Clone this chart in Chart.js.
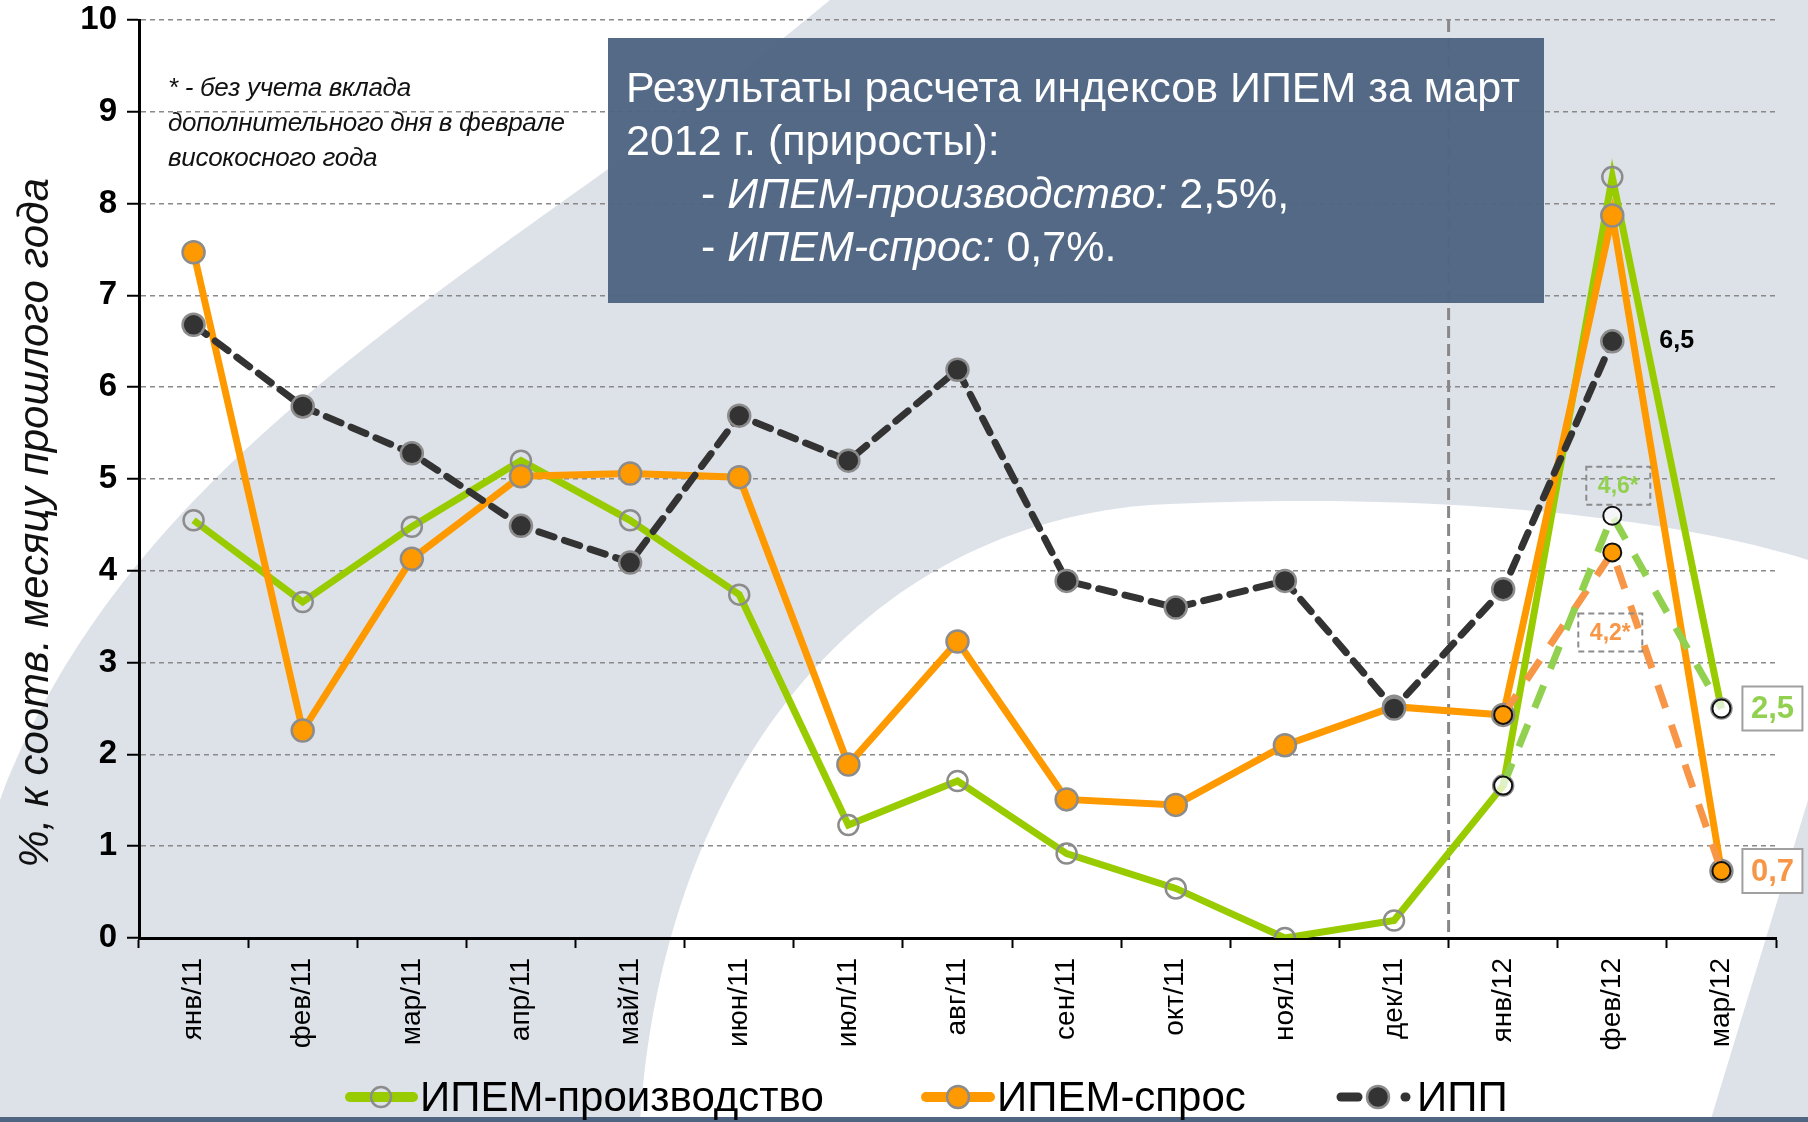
<!DOCTYPE html>
<html>
<head>
<meta charset="utf-8">
<script src="https://cdn.jsdelivr.net/npm/chart.js@4/dist/chart.umd.min.js"></script>
<style>
  html, body { margin: 0; padding: 0; }
  body { width: 1808px; height: 1122px; position: relative; overflow: hidden; font-family: "Liberation Sans", Arial, sans-serif; }
  #chart { position: absolute; left: 0; top: 0; }
  #note {
    position: absolute; left: 168px; top: 70px;
    font-family: "Liberation Sans", Arial, sans-serif;
    font-style: italic; font-size: 26px; line-height: 35px; color: #111; letter-spacing: -0.3px;
  }
  #box {
    position: absolute; left: 608px; top: 38px; width: 936px; height: 265px;
    box-sizing: border-box; padding: 23px 0 0 18px;
    background: rgba(79, 101, 130, 0.97); color: #fff;
    font-size: 43px; line-height: 53px; white-space: nowrap;
  }
  #box .ind { padding-left: 75px; }
</style>
</head>
<body>
<canvas id="chart" width="1808" height="1122"></canvas>
<div id="note">* - без учета вклада<br>дополнительного дня в феврале<br>високосного года</div>
<div id="box">
  Результаты расчета индексов ИПЕМ за март<br>
  2012 г. (приросты):<br>
  <div class="ind">- <i>ИПЕМ-производство:</i> 2,5%,</div>
  <div class="ind">- <i>ИПЕМ-спрос:</i> 0,7%.</div>
</div>
<script>
// categories and series
const months = ["янв/11", "фев/11", "мар/11", "апр/11", "май/11", "июн/11", "июл/11", "авг/11",
  "сен/11", "окт/11", "ноя/11", "дек/11", "янв/12", "фев/12", "мар/12"];
const ipemProd = [4.55, 3.66, 4.48, 5.2, 4.55, 3.74, 1.23, 1.71, 0.92, 0.54, 0.0, 0.19, 1.66, 8.29, 2.5];
const ipemDemand = [7.47, 2.26, 4.13, 5.03, 5.06, 5.02, 1.89, 3.23, 1.51, 1.45, 2.1, 2.52, 2.43, 7.87, 0.73];
const ipp = [6.68, 5.79, 5.28, 4.49, 4.09, 5.69, 5.2, 6.19, 3.89, 3.6, 3.89, 2.5, 3.8, 6.5, null];
// без учета дополнительного дня
const prodAdj = [null, null, null, null, null, null, null, null, null, null, null, null, 1.66, 4.6, 2.5];
const demandAdj = [null, null, null, null, null, null, null, null, null, null, null, null, 2.43, 4.2, 0.73];
const yMin = 0, yMax = 10, yStep = 1;
const yTitle = "%, к соотв. месяцу прошлого года";

const GREEN = "#99cc00", ORANGE = "#ff9900", DARK = "#333333";
const GREEN_LT = "#92d050", ORANGE_LT = "#f79646";
const FONT = "'Liberation Sans', Arial, sans-serif";
Chart.defaults.font.family = FONT;

const fmt = v => v.toFixed(1).replace(".", ",");

// background swooshes + decorations
const decor = {
  id: "decor",
  beforeDraw(chart) {
    const c = chart.ctx;
    c.save();
    c.fillStyle = "#dde1e8";
    c.fillRect(0, 0, chart.width, chart.height);
    c.fillStyle = "#ffffff";
    c.beginPath();
    c.moveTo(0, 0);
    c.lineTo(830, 0);
    c.bezierCurveTo(520, 260, 140, 430, 0, 800);
    c.closePath();
    c.fill();
    c.beginPath();
    c.moveTo(640, 1122);
    c.bezierCurveTo(660, 800, 840, 530, 1150, 505);
    c.bezierCurveTo(1450, 490, 1680, 520, 1808, 560);
    c.lineTo(1808, 800);
    c.lineTo(1710, 1122);
    c.closePath();
    c.fill();
    c.fillStyle = "#4f6582";
    c.fillRect(0, 1117, chart.width, 5);
    c.restore();
  },
  beforeDatasetsDraw(chart) {
    const c = chart.ctx, x = chart.scales.x, a = chart.chartArea;
    const bx = (x.getPixelForValue(11) + x.getPixelForValue(12)) / 2;
    c.save();
    c.strokeStyle = "#888888";
    c.lineWidth = 3;
    c.setLineDash([12, 6]);
    c.beginPath();
    c.moveTo(bx, a.top);
    c.lineTo(bx, a.bottom);
    c.stroke();
    c.restore();
  },
  afterDraw(chart) {
    const c = chart.ctx, x = chart.scales.x, y = chart.scales.y;
    c.save();
    // y axis title
    c.translate(36, 523);
    c.rotate(-Math.PI / 2);
    c.font = "italic 42px " + FONT;
    c.fillStyle = "#111";
    c.textAlign = "center";
    c.textBaseline = "middle";
    c.fillText(yTitle, 0, 0);
    c.restore();

    c.save();
    c.textBaseline = "middle";
    // ИПП last value
    c.font = "bold 25px " + FONT;
    c.fillStyle = "#000";
    c.textAlign = "left";
    c.fillText(fmt(ipp[13]), x.getPixelForValue(13) + 47, y.getPixelForValue(ipp[13]));

    // boxed end values
    const endBox = (val, color) => {
      const cx = x.getPixelForValue(14) + 51, cy = y.getPixelForValue(val);
      c.fillStyle = "#ffffff";
      c.fillRect(cx - 30, cy - 22, 60, 44);
      c.strokeStyle = "#a0a0a0";
      c.lineWidth = 2;
      c.setLineDash([]);
      c.strokeRect(cx - 30, cy - 22, 60, 44);
      c.fillStyle = color;
      c.font = "bold 31px " + FONT;
      c.textAlign = "center";
      c.fillText(fmt(val), cx, cy + 1);
    };
    endBox(prodAdj[14], GREEN_LT);
    endBox(demandAdj[14], ORANGE_LT);

    // adjusted February values
    const adjBox = (val, color, dx, dy) => {
      const cx = x.getPixelForValue(13) + dx, cy = y.getPixelForValue(val) + dy;
      c.strokeStyle = "#8c8c8c";
      c.lineWidth = 2;
      c.setLineDash([6, 4]);
      c.strokeRect(cx - 32, cy - 19, 64, 38);
      c.fillStyle = color;
      c.font = "bold 23px " + FONT;
      c.textAlign = "center";
      c.fillText(fmt(val) + "*", cx, cy + 1);
    };
    adjBox(prodAdj[13], GREEN_LT, 6, -30);
    adjBox(demandAdj[13], ORANGE_LT, -2, 80);
    c.restore();

    // legend
    const ly = 1097;
    c.save();
    c.lineCap = "round";
    c.font = "42px " + FONT;
    c.textBaseline = "middle";
    c.textAlign = "left";
    c.fillStyle = "#000";
    // ИПЕМ-производство
    c.strokeStyle = GREEN; c.lineWidth = 10;
    c.beginPath(); c.moveTo(350, ly); c.lineTo(413, ly); c.stroke();
    c.beginPath(); c.arc(381, ly, 10, 0, Math.PI * 2);
    c.strokeStyle = "#8c8c8c"; c.lineWidth = 2.5; c.stroke();
    c.fillText("ИПЕМ-производство", 420, ly + 2);
    // ИПЕМ-спрос
    c.strokeStyle = ORANGE; c.lineWidth = 10;
    c.beginPath(); c.moveTo(926, ly); c.lineTo(990, ly); c.stroke();
    c.beginPath(); c.arc(958, ly, 11, 0, Math.PI * 2);
    c.fillStyle = ORANGE; c.fill();
    c.strokeStyle = "#8c8c8c"; c.lineWidth = 2.5; c.stroke();
    c.fillStyle = "#000";
    c.fillText("ИПЕМ-спрос", 997, ly + 2);
    // ИПП
    c.strokeStyle = DARK; c.lineWidth = 9;
    c.beginPath(); c.moveTo(1341, ly); c.lineTo(1358, ly); c.stroke();
    c.beginPath(); c.moveTo(1405, ly); c.lineTo(1406, ly); c.stroke();
    c.beginPath(); c.arc(1378, ly, 11, 0, Math.PI * 2);
    c.fillStyle = DARK; c.fill();
    c.strokeStyle = "#8c8c8c"; c.lineWidth = 2.5; c.stroke();
    c.fillStyle = "#000";
    c.fillText("ИПП", 1417, ly + 2);
    c.restore();
  }
};

new Chart(document.getElementById("chart"), {
  type: "line",
  data: {
    labels: months,
    datasets: [
      {
        label: "ИПЕМ-производство*",
        data: prodAdj,
        borderColor: GREEN_LT,
        borderWidth: 7,
        borderDash: [24, 18],
        pointRadius: 9,
        pointBackgroundColor: "rgba(255,255,255,0.7)",
        pointBorderColor: "#111",
        pointBorderWidth: 2,
        spanGaps: false
      },
      {
        label: "ИПЕМ-спрос*",
        data: demandAdj,
        borderColor: ORANGE_LT,
        borderWidth: 7,
        borderDash: [24, 18],
        pointRadius: 9,
        pointBackgroundColor: ORANGE,
        pointBorderColor: "#111",
        pointBorderWidth: 2,
        spanGaps: false
      },
      {
        label: "ИПП",
        data: ipp,
        borderColor: DARK,
        borderWidth: 7,
        borderDash: [16, 11],
        borderCapStyle: "round",
        pointRadius: 11,
        pointBackgroundColor: DARK,
        pointBorderColor: "#8c8c8c",
        pointBorderWidth: 2.5
      },
      {
        label: "ИПЕМ-спрос",
        data: ipemDemand,
        borderColor: ORANGE,
        borderWidth: 7,
        pointRadius: 11,
        pointBackgroundColor: ORANGE,
        pointBorderColor: "#8c8c8c",
        pointBorderWidth: 2.5
      },
      {
        label: "ИПЕМ-производство",
        data: ipemProd,
        borderColor: GREEN,
        borderWidth: 7,
        pointRadius: 10,
        pointBackgroundColor: "rgba(255,255,255,0)",
        pointBorderColor: "#8c8c8c",
        pointBorderWidth: 2.5
      }
    ]
  },
  options: {
    responsive: false,
    animation: false,
    tension: 0,
    layout: { padding: { top: 20, right: 32, left: 0, bottom: 0 } },
    plugins: {
      legend: { display: false },
      tooltip: { enabled: false }
    },
    scales: {
      x: {
        offset: true,
        grid: { offset: true, drawOnChartArea: false, tickLength: 10, tickColor: "#000", tickWidth: 2 },
        border: { color: "#000", width: 3 },
        ticks: { autoSkip: false, minRotation: 90, maxRotation: 90, padding: 10, color: "#000",
          font: { size: 28 } },
        afterFit(s) { s.height = 184; }
      },
      y: {
        min: yMin,
        max: yMax,
        grid: { color: "#8a8a8a", lineWidth: 1.5, tickLength: 12, tickColor: "#000", tickWidth: 2, tickBorderDash: [] },
        border: { color: "#000", width: 3, dash: [5, 4] },
        ticks: { stepSize: yStep, padding: 10, color: "#000", font: { size: 33, weight: "bold", lineHeight: 1 } },
        afterFit(s) { s.width = 139; s.paddingTop = 0; s.paddingBottom = 0; }
      }
    }
  },
  plugins: [decor]
});
</script>
</body>
</html>
